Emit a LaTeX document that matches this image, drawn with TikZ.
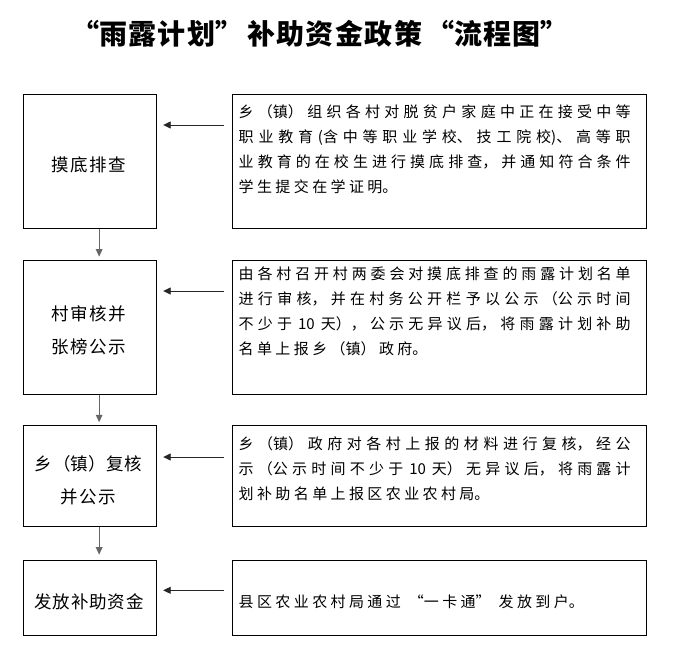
\documentclass[tikz,border=0pt]{standalone}
\usepackage{fontspec}
\usetikzlibrary{arrows.meta}
\newfontfamily\cjk{Noto Sans CJK SC}
\XeTeXlinebreaklocale "zh"
\XeTeXlinebreakskip=0pt plus 3pt minus 0.5pt
\begin{document}
\begin{tikzpicture}[x=1pt,y=-1pt,
  box/.style={draw=black, line width=0.9pt, inner sep=0pt, anchor=north west},
  harrow/.style={draw=black!85, line width=0.9pt, -{Triangle[length=7.5pt,width=7pt]}},
  varrow/.style={draw=black!60, line width=1.3pt, -{Triangle[length=7.5pt,width=6.5pt]}},
  ltext/.style={font={\cjk\fontsize{17.5}{33}\selectfont}, text width=130pt, align=center, inner sep=0pt, anchor=base,
    execute at begin node={\XeTeXlinebreakskip=0.6pt plus 1pt}},
  rtext/.style={font={\cjk\fontsize{15}{25}\selectfont}, text width=392pt, align=justify, inner sep=0pt, anchor=base west,
    execute at begin node={\XeTeXlinebreakskip=3.4pt plus 2pt minus 1pt\pretolerance=-1\tolerance=10000\hbadness=10000}},
  ttext/.style={font={\cjk\bfseries\fontsize{28}{30}\selectfont}, text width=600pt, align=center, inner sep=0pt, anchor=base,
    execute at begin node={\XeTeXlinebreakskip=1.4pt}}
]
\fill[white] (0,0) rectangle (676,670);
\useasboundingbox (0,0) rectangle (676,670);

\node[ttext] (title) at (320,44) {“雨露计划”\hspace{4pt}补助资金政策\hspace{4pt}“流程图”};

% left boxes
\node[box, minimum width=133pt, minimum height=133.7pt] (L1) at (22.5,94.3) {};
\node[box, minimum width=133pt, minimum height=133.7pt] (L2) at (22.5,260.3) {};
\node[box, minimum width=133pt, minimum height=101pt] (L3) at (22.5,425.3) {};
\node[box, minimum width=133pt, minimum height=75.3pt] (L4) at (22.5,559.7) {};

% right boxes
\node[box, minimum width=413.4pt, minimum height=133.7pt] (R1) at (232.3,94.3) {};
\node[box, minimum width=413.4pt, minimum height=133.7pt] (R2) at (232.3,260.3) {};
\node[box, minimum width=413.4pt, minimum height=101pt] (R3) at (232.3,425.3) {};
\node[box, minimum width=413.4pt, minimum height=75.3pt] (R4) at (232.3,559.7) {};

% left texts
\node[ltext] (lt1) at (89,171) {摸底排查};
\node[ltext] (lt2) at (88.5,320.6) {村审核并\\张榜公示};
\node[ltext] (lt3) at (88.5,470) {乡（镇）复核\\并公示};
\node[ltext] (lt4) at (89,608.3) {发放补助资金};

% right texts
\node[rtext] (rt1) at (238.5,117.4) {乡（镇）组织各村对脱贫户家庭中正在接受中等\linebreak 职业教育(含中等职业学校、技工院校)、高等职\linebreak 业教育的在校生进行摸底排查，并通知符合条件\linebreak 学生提交在学证明。};
\node[rtext] (rt2) at (238.5,279.7) {由各村召开村两委会对摸底排查的雨露计划名单\linebreak 进行审核，并在村务公开栏予以公示（公示时间\linebreak 不少于\hspace{6pt}10\hspace{6pt}天），公示无异议后，将雨露计划补助\linebreak 名单上报乡（镇）政府。};
\node[rtext] (rt3) at (238.5,449) {乡（镇）政府对各村上报的材料进行复核，经公\linebreak 示（公示时间不少于\hspace{6pt}10\hspace{6pt}天）无异议后，将雨露计\linebreak 划补助名单上报区农业农村局。};
\node[rtext] (rt4) at (238.5,607.4) {县区农业农村局通过\hspace{8pt}“一卡通”\hspace{8pt}发放到户。};

% horizontal arrows
\coordinate (h1) at ([yshift=-30.7pt]R1.north west);
\coordinate (h2) at ([yshift=-30.7pt]R2.north west);
\coordinate (h3) at ([yshift=-31.7pt]R3.north west);
\coordinate (h4) at ([yshift=-30.6pt]R4.north west);
\draw[harrow, shorten <=8.3pt, shorten >=6.8pt] (h1) -- (h1 -| L1.east);
\draw[harrow, shorten <=8.3pt, shorten >=6.8pt] (h2) -- (h2 -| L2.east);
\draw[harrow, shorten <=8.3pt, shorten >=6.8pt] (h3) -- (h3 -| L3.east);
\draw[harrow, shorten <=8.3pt, shorten >=6.8pt] (h4) -- (h4 -| L4.east);

% vertical arrows
\coordinate (v1) at ([xshift=9.7pt]L1.south);
\coordinate (v2) at ([xshift=9.7pt]L2.south);
\coordinate (v3) at ([xshift=9.7pt]L3.south);
\draw[varrow, shorten >=3.6pt] (v1) -- (v1 |- L2.north);
\draw[varrow, shorten >=3pt] (v2) -- (v2 |- L3.north);
\draw[varrow, shorten >=5pt] (v3) -- (v3 |- L4.north);
\end{tikzpicture}
\end{document}
